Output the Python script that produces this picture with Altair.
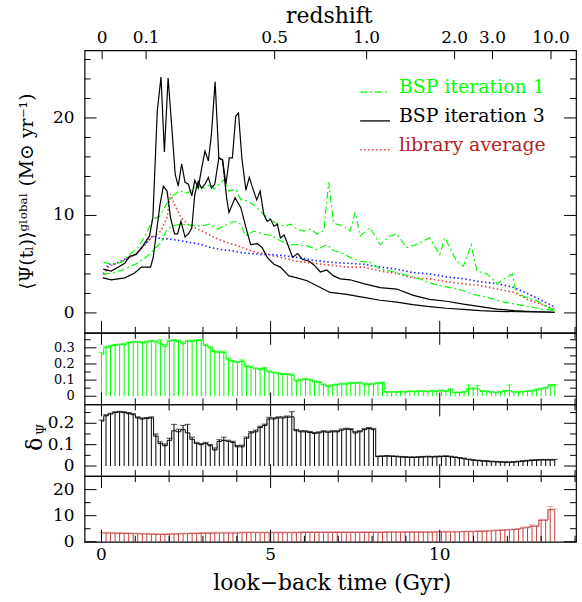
import altair as alt
import pandas as pd

FONT = "DejaVu Serif"
W = 494
H_MAIN, H_G, H_B, H_R = 284, 72, 72, 66
BIN_WIDTH = 0.134

# ---------------- top (redshift) axis ----------------
redshift_labels = ["0", "0.1", "0.5", "1.0", "2.0", "3.0", "10.0"]
redshift_lookback = [0.02, 1.32, 5.12, 7.84, 10.44, 11.56, 13.29]

# ---------------- main panel curves ----------------
bsp3_upper_t = [0.05, 0.29, 0.69, 0.83, 1.03, 1.23, 1.42, 1.52, 1.65, 1.76, 1.86, 1.97, 2.08, 2.18, 2.27,
                2.37, 2.47, 2.57, 2.67, 2.76, 2.86, 2.96, 3.06, 3.16, 3.25, 3.36, 3.47, 3.58, 3.68, 3.78,
                3.87, 3.97, 4.05, 4.15, 4.27, 4.37, 4.46, 4.59, 4.69, 4.80, 4.90, 5.00, 5.10, 5.20, 5.29,
                5.40, 5.51, 5.65, 5.80, 5.94, 6.14, 6.29, 6.47, 6.66, 6.86, 7.06, 7.35, 7.75, 8.24, 8.73,
                9.22, 9.70, 10.2, 10.7, 11.2, 11.7, 12.2, 12.7, 13.4]
bsp3_upper_sfr = [4.5, 4.3, 5.1, 5.8, 6.0, 6.9, 7.9, 9.8, 20.7, 24.2, 16.5, 24.1, 19.0, 14.2, 13.0,
                  15.3, 13.4, 13.2, 12.0, 13.6, 12.8, 14.8, 16.6, 15.6, 18.3, 23.7, 15.9, 15.7, 13.2, 15.9,
                  15.9, 20.2, 20.5, 15.9, 12.6, 13.9, 12.9, 11.6, 12.5, 10.1, 9.4, 9.6, 8.9, 9.1, 7.7,
                  8.0, 7.0, 5.7, 6.1, 5.5, 5.3, 4.9, 4.2, 4.4, 3.8, 3.5, 3.4, 3.0, 2.6, 2.45,
                  1.8, 1.4, 1.2, 0.9, 0.65, 0.4, 0.24, 0.15, 0.07]

bsp3_lower_t = [0.05, 0.29, 0.69, 0.98, 1.18, 1.45, 1.53, 1.63, 1.73, 1.83, 1.94, 2.04, 2.16, 2.25, 2.35,
                2.47, 2.57, 2.67, 2.76, 2.86, 2.96, 3.06, 3.16, 3.25, 3.35, 3.47, 3.58, 3.70, 3.77, 3.95,
                4.12, 4.26, 4.41, 4.61, 4.75, 4.90, 5.10, 5.29, 5.54, 5.78, 6.08, 6.47, 6.76, 7.25, 7.75,
                8.24, 8.73, 9.2, 9.7, 10.2, 10.7, 11.2, 11.7, 12.7, 13.4]
bsp3_lower_sfr = [3.6, 3.4, 3.6, 4.1, 4.7, 4.7, 5.7, 8.4, 11.1, 13.0, 12.5, 9.8, 8.1, 8.1, 9.4,
                  7.8, 8.1, 8.7, 12.2, 13.5, 12.8, 13.2, 13.9, 12.8, 13.2, 15.9, 15.7, 11.8, 10.3, 11.8,
                  10.8, 8.9, 7.0, 7.1, 6.7, 5.7, 5.0, 4.7, 3.8, 3.6, 3.3, 2.6, 2.1, 1.9, 1.6,
                  1.3, 1.1, 0.85, 0.65, 0.48, 0.37, 0.24, 0.17, 0.1, 0.07]

bsp1_upper_t = [0.05, 0.29, 0.59, 0.83, 1.08, 1.32, 1.52, 1.72, 1.91, 2.10, 2.30, 2.55, 2.80, 3.04, 3.24,
                3.33, 3.63, 3.77, 3.97, 4.12, 4.31, 4.50, 4.80, 5.00, 5.20, 5.40, 5.60, 5.78, 5.98, 6.18,
                6.37, 6.57, 6.72, 6.86, 7.16, 7.35, 7.50, 7.65, 7.94, 8.24, 8.53, 8.73, 9.02, 9.31, 9.70,
                10.0, 10.15, 10.5, 10.7, 10.93, 11.1, 11.4, 11.7, 11.9, 12.15, 12.25, 12.55, 12.85, 13.1, 13.4]
bsp1_upper_sfr = [5.2, 5.0, 5.2, 6.0, 6.7, 8.1, 9.6, 9.9, 11.1, 12.0, 12.5, 12.3, 13.0, 12.8, 13.2,
                  12.7, 13.7, 12.5, 12.7, 11.6, 11.5, 11.1, 10.1, 9.6, 9.1, 8.9, 9.1, 8.6, 8.4, 8.6,
                  8.1, 8.4, 13.4, 9.2, 8.9, 8.4, 10.3, 7.9, 8.75, 7.0, 7.9, 8.1, 6.7, 7.0, 7.7,
                  6.0, 7.7, 5.3, 4.8, 7.0, 4.3, 4.0, 3.0, 3.5, 4.0, 2.1, 1.6, 1.3, 0.75, 0.25]

bsp1_lower_t = [0.05, 0.29, 0.69, 1.0, 1.32, 1.52, 1.76, 1.91, 2.06, 2.35, 2.65, 2.94, 3.19, 3.43, 3.73,
                3.92, 4.12, 4.26, 4.5, 4.8, 5.05, 5.29, 5.54, 5.78, 6.08, 6.37, 6.67, 6.86, 7.06, 7.35,
                7.65, 7.94, 8.24, 8.53, 8.82, 9.1, 9.4, 9.7, 10.0, 10.3, 10.7, 11.0, 11.4, 11.9, 12.25,
                12.7, 13.0, 13.4]
bsp1_lower_sfr = [4.0, 4.05, 4.5, 5.0, 5.7, 6.4, 7.2, 8.4, 8.9, 9.1, 9.0, 8.9, 9.1, 8.6, 9.1,
                  9.4, 9.1, 7.9, 8.4, 8.1, 7.9, 7.4, 7.0, 7.0, 6.9, 6.5, 7.0, 6.4, 6.2, 5.7,
                  5.3, 5.2, 4.5, 4.3, 4.05, 3.8, 3.5, 3.1, 2.8, 2.6, 2.3, 1.9, 1.6, 1.1, 0.9,
                  0.6, 0.4, 0.25]

lib_red_t = [0.05, 0.2, 0.39, 0.69, 1.0, 1.27, 1.47, 1.76, 1.94, 2.04, 2.16, 2.35, 2.55, 2.84, 3.14,
             3.43, 3.73, 4.02, 4.31, 4.6, 4.9, 5.29, 5.78, 6.27, 6.76, 7.25, 7.75, 8.24, 8.73, 9.2,
             9.7, 10.2, 10.7, 11.2, 11.7, 12.2, 12.65, 13.0, 13.4]
lib_red_sfr = [3.5, 4.7, 5.0, 5.4, 6.0, 6.9, 7.7, 8.4, 9.8, 12.2, 11.1, 9.8, 9.1, 8.6, 8.1,
               7.6, 7.2, 6.9, 6.5, 6.2, 6.0, 5.7, 5.3, 5.1, 4.9, 4.7, 4.7, 4.3, 4.05, 3.6,
               3.5, 3.2, 3.0, 2.8, 2.45, 2.1, 1.3, 0.9, 0.4]

lib_blue_t = [0.05, 0.2, 0.39, 0.69, 1.0, 1.27, 1.52, 1.76, 1.96, 2.35, 2.65, 2.94, 3.24, 3.53, 3.82,
              4.12, 4.41, 4.7, 5.0, 5.29, 5.78, 6.27, 6.76, 7.25, 7.75, 8.24, 8.73, 9.2, 9.7, 10.2,
              10.7, 11.2, 11.7, 12.2, 12.65, 13.0, 13.4]
lib_blue_sfr = [4.0, 5.0, 5.0, 5.5, 6.0, 7.0, 7.9, 7.6, 7.6, 7.4, 7.2, 7.05, 6.7, 6.5, 6.4,
                6.2, 6.1, 6.0, 6.0, 5.9, 5.7, 5.4, 5.2, 5.1, 5.0, 4.7, 4.5, 4.15, 4.0, 3.7,
                3.5, 3.2, 3.0, 2.6, 1.9, 1.3, 0.6]

# ---------------- lower panels (binned delta values) ----------------
green_delta = [0.26, 0.30, 0.31, 0.315, 0.318, 0.32, 0.33, 0.335, 0.335, 0.33,
               0.335, 0.34, 0.335, 0.325, 0.31, 0.34, 0.345, 0.34, 0.325, 0.34,
               0.34, 0.345, 0.345, 0.315, 0.30, 0.275, 0.27, 0.27, 0.23, 0.215,
               0.21, 0.215, 0.185, 0.18, 0.17, 0.165, 0.17, 0.15, 0.145, 0.14,
               0.135, 0.135, 0.13, 0.095, 0.10, 0.105, 0.10, 0.09, 0.085, 0.07,
               0.06, 0.065, 0.07, 0.075, 0.075, 0.08, 0.08, 0.082, 0.075, 0.072,
               0.075, 0.08, 0.082, 0.025, 0.025, 0.025, 0.027, 0.025, 0.03, 0.028,
               0.03, 0.03, 0.028, 0.032, 0.03, 0.035, 0.03, 0.04, 0.022, 0.022,
               0.025, 0.045, 0.045, 0.045, 0.03, 0.028, 0.025, 0.022, 0.025, 0.03,
               0.035, 0.025, 0.025, 0.027, 0.03, 0.033, 0.04, 0.045, 0.05, 0.065,
               0.065]
green_err = [0.01, 0.008, 0.006, 0.006, 0.006, 0.006, 0.005, 0.005, 0.005, 0.008,
             0.006, 0.006, 0.008, 0.025, 0.012, 0.008, 0.006, 0.008, 0.01, 0.008,
             0.006, 0.005, 0.006, 0.008, 0.006, 0.006, 0.008, 0.01, 0.008, 0.006,
             0.006, 0.01, 0.008, 0.006, 0.006, 0.006, 0.008, 0.006, 0.006, 0.006,
             0.006, 0.006, 0.008, 0.006, 0.006, 0.006, 0.006, 0.006, 0.006, 0.006,
             0.006, 0.006, 0.006, 0.006, 0.006, 0.006, 0.006, 0.006, 0.006, 0.006,
             0.006, 0.006, 0.006, 0.004, 0.004, 0.004, 0.004, 0.004, 0.004, 0.004,
             0.004, 0.004, 0.004, 0.004, 0.004, 0.004, 0.005, 0.006, 0.004, 0.004,
             0.004, 0.025, 0.008, 0.02, 0.005, 0.005, 0.004, 0.004, 0.004, 0.006,
             0.035, 0.005, 0.004, 0.004, 0.004, 0.004, 0.004, 0.005, 0.006, 0.008,
             0.008]

black_delta = [0.21, 0.235, 0.243, 0.25, 0.252, 0.25, 0.245, 0.24, 0.225, 0.22,
               0.222, 0.225, 0.14, 0.105, 0.095, 0.12, 0.165, 0.16, 0.17, 0.155,
               0.125, 0.105, 0.10, 0.105, 0.095, 0.075, 0.115, 0.12, 0.115, 0.11,
               0.09, 0.09, 0.13, 0.155, 0.16, 0.18, 0.19, 0.22, 0.22, 0.225,
               0.225, 0.228, 0.23, 0.165, 0.16, 0.16, 0.157, 0.152, 0.155, 0.16,
               0.158, 0.16, 0.16, 0.168, 0.172, 0.17, 0.155, 0.16, 0.17, 0.175,
               0.17, 0.044, 0.045, 0.046, 0.045, 0.044, 0.042, 0.041, 0.04, 0.04,
               0.041, 0.042, 0.043, 0.042, 0.043, 0.044, 0.045, 0.043, 0.04, 0.037,
               0.034, 0.03, 0.027, 0.025, 0.023, 0.022, 0.02, 0.019, 0.018, 0.017,
               0.017, 0.018, 0.02, 0.022, 0.024, 0.026, 0.027, 0.028, 0.028, 0.028,
               0.028]
black_err = [0.005, 0.005, 0.004, 0.004, 0.004, 0.004, 0.005, 0.005, 0.005, 0.005,
             0.005, 0.005, 0.01, 0.008, 0.008, 0.01, 0.03, 0.012, 0.02, 0.04,
             0.01, 0.006, 0.006, 0.006, 0.006, 0.01, 0.008, 0.015, 0.006, 0.006,
             0.006, 0.008, 0.006, 0.006, 0.008, 0.006, 0.006, 0.008, 0.006, 0.005,
             0.005, 0.006, 0.024, 0.006, 0.005, 0.005, 0.005, 0.005, 0.005, 0.005,
             0.005, 0.005, 0.005, 0.005, 0.005, 0.005, 0.006, 0.005, 0.005, 0.005,
             0.006, 0.003, 0.003, 0.003, 0.003, 0.003, 0.003, 0.003, 0.003, 0.003,
             0.003, 0.003, 0.003, 0.003, 0.003, 0.003, 0.003, 0.003, 0.003, 0.003,
             0.003, 0.003, 0.003, 0.003, 0.003, 0.003, 0.003, 0.003, 0.003, 0.003,
             0.003, 0.003, 0.003, 0.003, 0.003, 0.003, 0.003, 0.003, 0.003, 0.003,
             0.003]

red_delta = [3.4, 3.4, 3.4, 3.3, 3.3, 3.2, 3.2, 3.1, 3.1, 3.0,
             3.0, 2.9, 2.9, 2.8, 2.8, 2.9, 3.0, 3.0, 3.1, 3.1,
             3.2, 3.2, 3.3, 3.3, 3.3, 3.4, 3.4, 3.4, 3.4, 3.4,
             3.4, 3.5, 3.5, 3.5, 3.5, 3.5, 3.5, 3.5, 3.5, 3.5,
             3.5, 3.5, 3.5, 3.5, 3.6, 3.6, 3.6, 3.6, 3.6, 3.6,
             3.6, 3.6, 3.6, 3.6, 3.6, 3.6, 3.6, 3.6, 3.6, 3.6,
             3.6, 3.6, 3.6, 3.7, 3.7, 3.7, 3.7, 3.7, 3.7, 3.7,
             3.7, 3.7, 3.7, 3.7, 3.8, 3.8, 3.8, 3.8, 3.8, 3.8,
             3.9, 3.9, 3.9, 4.0, 4.0, 4.1, 4.2, 4.3, 4.4, 4.5,
             4.6, 4.7, 4.9, 5.3, 5.4, 6.0, 6.0, 8.3, 8.3, 12.3,
             12.3]
red_err = [0.2, 0.2, 0.2, 0.2, 0.2, 0.2, 0.2, 0.2, 0.2, 0.2,
           0.2, 0.2, 0.2, 0.2, 0.2, 0.2, 0.2, 0.2, 0.2, 0.2,
           0.2, 0.2, 0.2, 0.2, 0.2, 0.2, 0.2, 0.2, 0.2, 0.2,
           0.2, 0.2, 0.2, 0.2, 0.2, 0.2, 0.2, 0.2, 0.2, 0.2,
           0.2, 0.2, 0.2, 0.2, 0.2, 0.2, 0.2, 0.2, 0.2, 0.2,
           0.2, 0.2, 0.2, 0.2, 0.2, 0.2, 0.2, 0.2, 0.2, 0.2,
           0.2, 0.2, 0.2, 0.2, 0.2, 0.2, 0.2, 0.2, 0.2, 0.2,
           0.2, 0.2, 0.2, 0.2, 0.2, 0.2, 0.2, 0.2, 0.2, 0.2,
           0.2, 0.2, 0.2, 0.2, 0.2, 0.2, 0.2, 0.2, 0.2, 0.2,
           0.2, 0.2, 0.2, 0.3, 0.3, 0.5, 0.3, 0.3, 0.3, 1.2,
           0.3]

# ---------------- ticks and tick labels ----------------
x_major = [0, 5, 10]
x_labels = ["0", "5", "10"]
x_minor = [1, 2, 3, 4, 6, 7, 8, 9, 11, 12, 13, 14]
main_y_major = [0, 10, 20]
main_y_labels = ["0", "10", "20"]
main_y_minor = [2, 4, 6, 8, 12, 14, 16, 18, 22, 24, 26]
green_y_major = [0, 0.1, 0.2, 0.3]
green_y_labels = ["0", "0.1", "0.2", "0.3"]
green_y_minor = [0.05, 0.15, 0.25, 0.35]
black_y_major = [0, 0.1, 0.2]
black_y_labels = ["0", "0.1", "0.2"]
black_y_minor = [0.05, 0.15, 0.25]
red_y_major = [0, 10, 20]
red_y_labels = ["0", "10", "20"]
red_y_minor = [5, 15]

bin_time = [round(i * BIN_WIDTH, 3) for i in range(len(green_delta))]

x_scale = alt.Scale(domain=[-0.5, 14.03], nice=False, zero=False)
one = pd.DataFrame({"k": [0]})


def tick_layers(y_major, y_labels, y_minor, y_scale, height, x_top=True, x_bottom=True,
                label_size=17):
    layers = []
    for vals, ln in ((y_major, 12), (y_minor, 6)):
        c = alt.Chart(pd.DataFrame({"yt": vals}))
        yenc = alt.Y("yt:Q", scale=y_scale, axis=None)
        layers.append(c.mark_rule(color="black", strokeWidth=1).encode(
            y=yenc, x=alt.value(0), x2=alt.value(ln)))
        layers.append(c.mark_rule(color="black", strokeWidth=1).encode(
            y=yenc, x=alt.value(W - ln), x2=alt.value(W)))
    for vals, ln in ((x_major, 12), (x_minor, 6)):
        c = alt.Chart(pd.DataFrame({"xt": vals}))
        xenc = alt.X("xt:Q", scale=x_scale, axis=None)
        if x_bottom:
            layers.append(c.mark_rule(color="black", strokeWidth=1).encode(
                x=xenc, y=alt.value(height - ln), y2=alt.value(height)))
        if x_top:
            layers.append(c.mark_rule(color="black", strokeWidth=1).encode(
                x=xenc, y=alt.value(0), y2=alt.value(ln)))
    # y tick labels
    layers.append(alt.Chart(pd.DataFrame({"yt": y_major, "lab": y_labels})).mark_text(
        font=FONT, fontSize=label_size, align="right", baseline="middle", color="black").encode(
        y=alt.Y("yt:Q", scale=y_scale, axis=None), x=alt.value(-10), text="lab:N"))
    return layers


# ---------------- main panel ----------------
y_main = alt.Scale(domain=[-2.04, 26.94], nice=False, zero=False)


def line_layer(ts, vals, color, dash=None, width=1.2):
    assert len(ts) == len(vals)
    kw = dict(color=color, strokeWidth=width)
    if dash:
        kw["strokeDash"] = dash
    return alt.Chart(pd.DataFrame({"t": ts, "sfr": vals})).mark_line(**kw).encode(
        x=alt.X("t:Q", scale=x_scale, axis=None),
        y=alt.Y("sfr:Q", scale=y_main, axis=None))


GREEN = "#00FF00"
DASHDOT = [7, 3, 2, 3]
DOT = [1.5, 2.5]

main_layers = [
    line_layer(lib_blue_t, lib_blue_sfr, "#2020FF", DOT, 1.6),
    line_layer(lib_red_t, lib_red_sfr, "#E04040", DOT, 1.6),
    line_layer(bsp1_lower_t, bsp1_lower_sfr, GREEN, DASHDOT),
    line_layer(bsp1_upper_t, bsp1_upper_sfr, GREEN, DASHDOT),
    line_layer(bsp3_lower_t, bsp3_lower_sfr, "black"),
    line_layer(bsp3_upper_t, bsp3_upper_sfr, "black"),
]
main_layers += tick_layers(main_y_major, main_y_labels, main_y_minor, y_main, H_MAIN, x_top=False)

zdf = pd.DataFrame({"lt": redshift_lookback, "lab": redshift_labels})
main_layers.append(alt.Chart(zdf).mark_rule(color="black", strokeWidth=1).encode(
    x=alt.X("lt:Q", scale=x_scale, axis=None), y=alt.value(0), y2=alt.value(9)))
main_layers.append(alt.Chart(zdf).mark_text(font=FONT, fontSize=17, baseline="middle",
                                           align="center", color="black").encode(
    x=alt.X("lt:Q", scale=x_scale, axis=None), y=alt.value(-12), text="lab:N"))
main_layers.append(alt.Chart(one).mark_text(text="redshift", font=FONT, fontSize=22,
                                           baseline="middle", align="center").encode(
    x=alt.value(246), y=alt.value(-34)))
main_layers.append(alt.Chart(one).mark_text(
    text="⟨Ψ(tₗ)⟩ᵍˡᵒᵇᵃˡ  (M⊙ yr⁻¹)", font=FONT, fontSize=19, angle=270,
    baseline="middle", align="center").encode(x=alt.value(-58), y=alt.value(H_MAIN / 2)))

# legend
legend_items = [
    ("BSP iteration 1", GREEN, GREEN, DASHDOT, 37),
    ("BSP iteration 3", "black", "black", None, 66),
    ("library average", "#B22222", "#E04040", DOT, 95),
]
for label, tcol, lcol, dash, yy in legend_items:
    kw = dict(color=lcol, strokeWidth=1.3)
    if dash:
        kw["strokeDash"] = dash
    main_layers.append(alt.Chart(one).mark_rule(**kw).encode(
        x=alt.value(277), x2=alt.value(307), y=alt.value(yy + 5)))
    main_layers.append(alt.Chart(one).mark_text(text=label, font=FONT, fontSize=19, color=tcol,
                                               align="left", baseline="middle").encode(
        x=alt.value(316), y=alt.value(yy)))

main = alt.layer(*main_layers).properties(width=W, height=H_MAIN)


# ---------------- lower panels ----------------
def hist_panel(vals, errs, y_scale, height, hatch_col, step_col, err_col,
               y_major, y_labels, y_minor, extra=None, label_size=17):
    assert len(vals) == len(bin_time) == len(errs)
    df = pd.DataFrame({"t": bin_time, "v": vals,
                       "top": [v + e for v, e in zip(vals, errs)]})
    base = alt.Chart(df)
    xenc = alt.X("t:Q", scale=x_scale, axis=None)
    hatch = base.mark_rule(color=hatch_col, strokeWidth=1).encode(
        x=xenc, y=alt.Y("v:Q", scale=y_scale, axis=None), y2=alt.datum(0))
    step = base.mark_line(interpolate="step", color=step_col, strokeWidth=1).encode(
        x=xenc, y=alt.Y("v:Q", scale=y_scale, axis=None))
    err = base.mark_rule(color=err_col, strokeWidth=1).encode(
        x=xenc, y=alt.Y("v:Q", scale=y_scale, axis=None), y2="top:Q")
    cap = base.mark_tick(color=err_col, orient="horizontal", size=6, thickness=1).encode(
        x=xenc, y=alt.Y("top:Q", scale=y_scale, axis=None))
    layers = [hatch, step, err, cap] + tick_layers(y_major, y_labels, y_minor, y_scale, height,
                                                   label_size=label_size)
    if extra:
        layers += extra
    return alt.layer(*layers).properties(width=W, height=height)


green_panel = hist_panel(green_delta, green_err,
                         alt.Scale(domain=[-0.051, 0.393], nice=False, zero=False), H_G,
                         GREEN, GREEN, GREEN, green_y_major, green_y_labels, green_y_minor,
                         label_size=13)

delta_title = [
    alt.Chart(one).mark_text(text="δ", font=FONT, fontSize=22, angle=270,
                             baseline="middle", align="center").encode(
        x=alt.value(-50), y=alt.value(40)),
    alt.Chart(one).mark_text(text="Ψ", font=FONT, fontSize=13, angle=270,
                             baseline="middle", align="center").encode(
        x=alt.value(-43), y=alt.value(25)),
]
black_panel = hist_panel(black_delta, black_err,
                         alt.Scale(domain=[-0.047, 0.288], nice=False, zero=False), H_B,
                         "black", "black", "black", black_y_major, black_y_labels, black_y_minor,
                         extra=delta_title)

xlab_df = pd.DataFrame({"xt": x_major, "lab": x_labels})
bottom_extra = [
    alt.Chart(xlab_df).mark_text(font=FONT, fontSize=17, align="center", baseline="middle",
                                 color="black").encode(
        x=alt.X("xt:Q", scale=x_scale, axis=None), y=alt.value(H_R + 13), text="lab:N"),
    alt.Chart(one).mark_text(text="look−back time (Gyr)", font=FONT, fontSize=22,
                             align="center", baseline="middle").encode(
        x=alt.value(249), y=alt.value(H_R + 41)),
]
red_panel = hist_panel(red_delta, red_err,
                       alt.Scale(domain=[0, 25.2], nice=False, zero=False), H_R,
                       "#C83C3C", "#B22222", "#E08A8A", red_y_major, red_y_labels, red_y_minor,
                       extra=bottom_extra)

chart = alt.vconcat(main, green_panel, black_panel, red_panel, spacing=0, bounds="flush").properties(
    padding={"left": 17, "top": 3, "right": 4, "bottom": 2}
).configure_view(
    stroke="black", strokeWidth=1.2
)

chart.save("out.html", embed_options={"renderer": "svg", "actions": False})
